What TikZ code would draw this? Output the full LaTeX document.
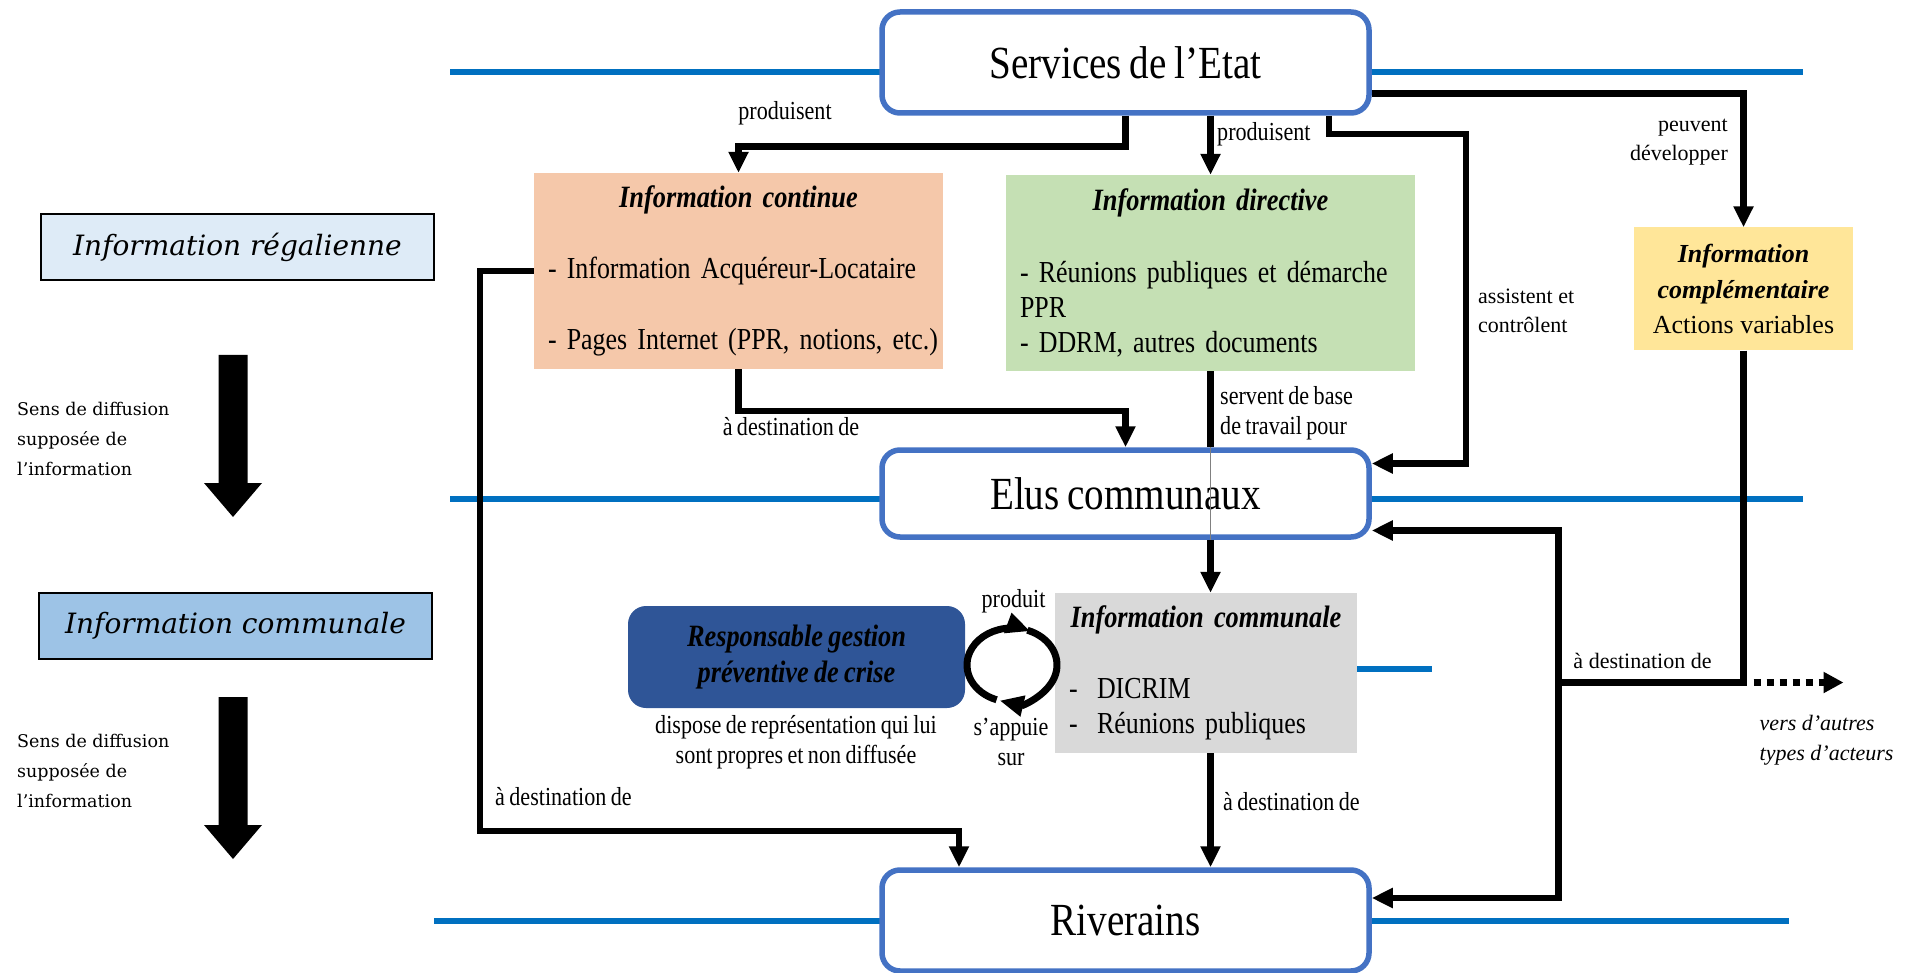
\documentclass[tikz,border=0pt]{standalone}
\usepackage{fontspec}
\setmainfont{Liberation Serif}
\newfontfamily\condfont{Liberation Serif}[FakeStretch=0.85,WordSpace=0.8]
\newfontfamily\widefont{DejaVu Serif}
\usetikzlibrary{arrows.meta,positioning}

\definecolor{ruleblue}{HTML}{0070C0}
\definecolor{actorblue}{HTML}{4472C4}
\definecolor{contfill}{HTML}{F5C8AA}
\definecolor{dirfill}{HTML}{C5E0B4}
\definecolor{compfill}{HTML}{FFE699}
\definecolor{commfill}{HTML}{D9D9D9}
\definecolor{respfill}{HTML}{2F5597}
\definecolor{regfill}{HTML}{DEEBF7}
\definecolor{tierfill}{HTML}{9DC3E6}

\newcommand\boxtitle[2]{\makebox[#1][c]{\fontsize{31}{35}\selectfont\bfseries\itshape #2}}
\newcommand\boxline[2]{\makebox[#1][l]{#2}}

\begin{document}
\begin{tikzpicture}[
  x=1pt,y=-1pt,
  actor/.style={draw=actorblue,line width=5.5pt,rounded corners=18pt,fill=white,
    minimum width=487pt,minimum height=101pt,font=\condfont\fontsize{46}{52}\selectfont},
  infobox/.style={inner xsep=14pt,inner ysep=0pt,text width=381pt,minimum height=196pt,
    align=left,font=\condfont\fontsize{30.5}{35}\selectfont},
  tierbox/.style={draw,line width=2pt,minimum width=393pt,minimum height=66pt,
    font=\widefont\itshape\fontsize{28}{32}\selectfont},
  conn/.style={line width=6.5pt,-{Triangle[width=19pt,length=21pt]}},
  sepline/.style={line width=5.5pt,ruleblue},
  lbl/.style={inner sep=0pt,font=\condfont\fontsize{26}{30}\selectfont},
  nlbl/.style={inner sep=0pt,align=left,font=\fontsize{22}{29}\selectfont}
]
\useasboundingbox (0,0) rectangle (1908,973);

% horizontal separators
\draw[sepline] (450,72) -- (1803,72);
\draw[sepline] (450,499) -- (1803,499);
\draw[sepline] (434,921) -- (1789,921);
\draw[sepline] (1357,669) -- (1432,669);

% actors
\node[actor] (serv) at (1125.5,62.5) {Services de l’Etat};
\node[actor,minimum height=87pt] (elus) at (1125.5,493.5) {Elus communaux};
\node[actor] (riv) at (1125.5,920.5) {Riverains};

% information boxes
\node[infobox,fill=contfill] (cont) at (738.5,271)
  {\boxtitle{381pt}{Information continue}\\[36pt]
   \boxline{381pt}{- Information Acquéreur-Locataire}\\[36pt]
   \boxline{381pt}{- Pages Internet (PPR, notions, etc.)}};
\node[infobox,fill=dirfill] (dir) at (1210.5,273)
  {\boxtitle{381pt}{Information directive}\\[37pt]
   \boxline{381pt}{- Réunions publiques et démarche}\\
   \boxline{381pt}{PPR}\\
   \boxline{381pt}{- DDRM, autres documents}};
\node[infobox,fill=commfill,text width=274pt,minimum height=160pt] (comm) at (1206,673)
  {\boxtitle{274pt}{Information communale}\\[36pt]
   \boxline{274pt}{\makebox[28pt][l]{-}DICRIM}\\
   \boxline{274pt}{\makebox[28pt][l]{-}Réunions publiques}};
\node[fill=compfill,minimum width=219pt,minimum height=123pt,align=center,
  font=\fontsize{26}{35.4}\selectfont] (comp) at (1743.5,289)
  {\textbf{\textit{Information}}\\\textbf{\textit{complémentaire}}\\Actions variables};
\node[fill=respfill,rounded corners=18pt,minimum width=337pt,minimum height=102pt,align=center,
  font=\condfont\bfseries\itshape\fontsize{31}{35.5}\selectfont] (resp) at (796.5,657)
  {Responsable gestion\\préventive de crise};

% left column
\node[tierbox,fill=regfill] (regal) at (237.5,247) {Information régalienne};
\node[tierbox,fill=tierfill] (commtier) at (235.5,625.5) {Information communale};
\foreach \ys/\ty/\nm in {355/439/a,697/771/b} {
  \fill (218.5,\ys) -- ++(29,0) -- ++(0,128) -- ++(14.5,0) -- ++(-29,34)
    -- ++(-29,-34) -- ++(14.5,0) -- cycle;
  \node[anchor=west,inner sep=0pt,align=left,font=\widefont\fontsize{17.5}{30}\selectfont]
    (sens\nm) at (17,\ty) {Sens de diffusion\\supposée de\\l’information};
}

% connectors
\coordinate (ctrl) at (1466,134);
\coordinate (contL) at (480,831);
\coordinate (hub) at (1558.5,682.5);
\coordinate (cyc) at (1012,665);

\draw[conn] (serv.south) -- ++(0,31) -| (cont.north);
\draw[conn] (serv.south -| dir.north) -- (dir.north);
\draw[conn] ([xshift=203.5pt]serv.south) |- (ctrl) |- ([yshift=30pt]elus.east);
\draw[conn] ([yshift=-31pt]serv.east) -| (comp.north);
\draw[conn] (cont.south) -- ++(0,42) -| (elus.north);
\draw[line width=6.5pt] (dir.south) -- (dir.south |- elus.north);
\draw[gray,line width=1pt] (dir.south |- elus.north) -- (dir.south |- elus.south);
\draw[conn] (dir.south |- elus.south) -- (dir.south |- comm.north);
\draw[conn] (cont.west) -| (contL) -| ([xshift=-166.5pt]riv.north);
\draw[conn] (dir.south |- comm.south) -- (dir.south |- riv.north);
\draw[line width=6.5pt] (comp.south) |- (hub);
\draw[conn] (hub) |- ([yshift=-37pt]elus.east);
\draw[conn] (hub) |- ([yshift=22.5pt]riv.east);
\draw[line width=6.5pt,dash pattern=on 7pt off 6pt,-{Triangle[width=20pt,length=20pt]}]
  ([xshift=10pt]comp.south |- hub) -- ++(90,0);

% cycle between resp and comm
\draw[line width=7pt,-{Triangle[width=20pt,length=24pt]}]
  ([shift={(250:45pt and 37pt)}]cyc) arc[start angle=250,end angle=66,x radius=45pt,y radius=37pt];
\draw[line width=7pt,-{Triangle[width=20pt,length=24pt]}]
  ([shift={(70:45pt and 37pt)}]cyc) arc[start angle=70,end angle=-106,x radius=45pt,y radius=37pt];

% labels
\node[lbl] (lprod1) at (785,113) {produisent};
\node[lbl,anchor=west] (lprod2) at (1217,134) {produisent};
\node[nlbl,anchor=west] (lassist) at (1478,311) {assistent et\\contrôlent};
\node[nlbl,anchor=east,align=right] (ldev) at (1728,142.5) {peuvent\\développer};
\node[lbl] (ldest1) at (791,427) {à destination de};
\node[lbl,anchor=west,align=left] (lbase) at (1220,413) {servent de base\\de travail pour};
\node[lbl,anchor=west] (ldest2) at (495,797) {à destination de};
\node[lbl,anchor=west] (ldest3) at (1223,802) {à destination de};
\node[nlbl] (ldest4) at (1642.5,660.5) {à destination de};
\node[nlbl,anchor=west,font=\itshape\fontsize{22}{30}\selectfont] (lautres) at (1759.5,740.5)
  {vers d’autres\\types d’acteurs};
\node[lbl] (lproduit) at (1013.5,601) {produit};
\node[lbl,align=center] (lappui) at (1011,742) {s’appuie\\sur};
\node[lbl,align=center] (lrepr) at (796,742) {dispose de représentation qui lui\\sont propres et non diffusée};
\end{tikzpicture}
\end{document}
